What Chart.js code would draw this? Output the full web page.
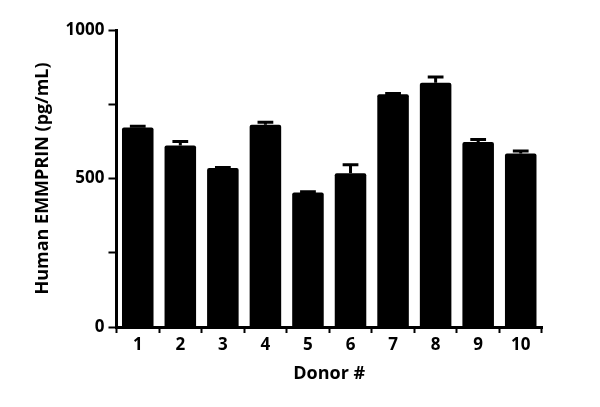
<!DOCTYPE html>
<html>
<head>
<meta charset="utf-8">
<script src="https://cdn.jsdelivr.net/npm/chart.js@4"></script>
<style>
  html, body { margin: 0; padding: 0; background: #fff; }
  #wrap { width: 600px; height: 407px; }
</style>
</head>
<body>
<div id="wrap"><canvas id="chartDonor"></canvas></div>
<script>
// donor means and SEM
const donors = ['1', '2', '3', '4', '5', '6', '7', '8', '9', '10'];
const means = [672, 611, 535, 681, 453, 518, 784, 822, 623, 584];
const errors = [4, 14, 2, 8, 2, 28, 2, 20, 8, 9];
const yTicks = [0, 500, 1000];

// draws the upper error bar with a cap on top of each bar
const errorBars = {
    id: 'errorBars',
    afterDatasetsDraw(chart) {
        const ctx = chart.ctx;
        const meta = chart.getDatasetMeta(0);
        const y = chart.scales.y;
        ctx.save();
        ctx.strokeStyle = '#000';
        ctx.lineWidth = 3;
        meta.data.forEach(function(bar, i) {
            const top = y.getPixelForValue(means[i] + errors[i]);
            const half = bar.width / 4;
            ctx.beginPath();
            ctx.moveTo(bar.x, bar.y);
            ctx.lineTo(bar.x, top);
            ctx.moveTo(bar.x - half, top);
            ctx.lineTo(bar.x + half, top);
            ctx.stroke();
        });
        ctx.restore();
    }
};

const font = { family: 'Open Sans', size: 17, weight: 'bold' };
const titleFont = { family: 'Open Sans', size: 18, weight: 'bold' };

new Chart(document.getElementById('chartDonor'), {
    type: 'bar',
    data: {
        labels: donors,
        datasets: [{
            data: means,
            backgroundColor: '#000',
            borderRadius: 2,
            categoryPercentage: 0.78,
            barPercentage: 0.95
        }]
    },
    options: {
        responsive: true,
        maintainAspectRatio: false,
        animation: false,
        layout: { padding: { top: 30, right: 58, left: 28, bottom: 18 } },
        plugins: { legend: { display: false }, tooltip: { enabled: false } },
        scales: {
            x: {
                grid: { display: true, drawOnChartArea: false, tickLength: 6, tickWidth: 2, tickColor: '#000' },
                border: { color: '#000', width: 3 },
                ticks: { color: '#000', font: font, padding: 2 },
                title: { display: true, text: 'Donor #', color: '#000', font: titleFont, padding: { top: 6 } }
            },
            y: {
                min: 0,
                max: 1000,
                grid: { display: true, drawOnChartArea: false, tickLength: 8, tickWidth: 2, tickColor: '#000' },
                border: { color: '#000', width: 3 },
                ticks: {
                    stepSize: 250,
                    color: '#000',
                    font: font,
                    padding: 4,
                    callback: function(v) { return yTicks.includes(v) ? v : ''; }
                },
                title: { display: true, text: 'Human EMMPRIN (pg/mL)', color: '#000', font: titleFont, padding: { bottom: 8 } }
            }
        }
    },
    plugins: [errorBars]
});
</script>
</body>
</html>
